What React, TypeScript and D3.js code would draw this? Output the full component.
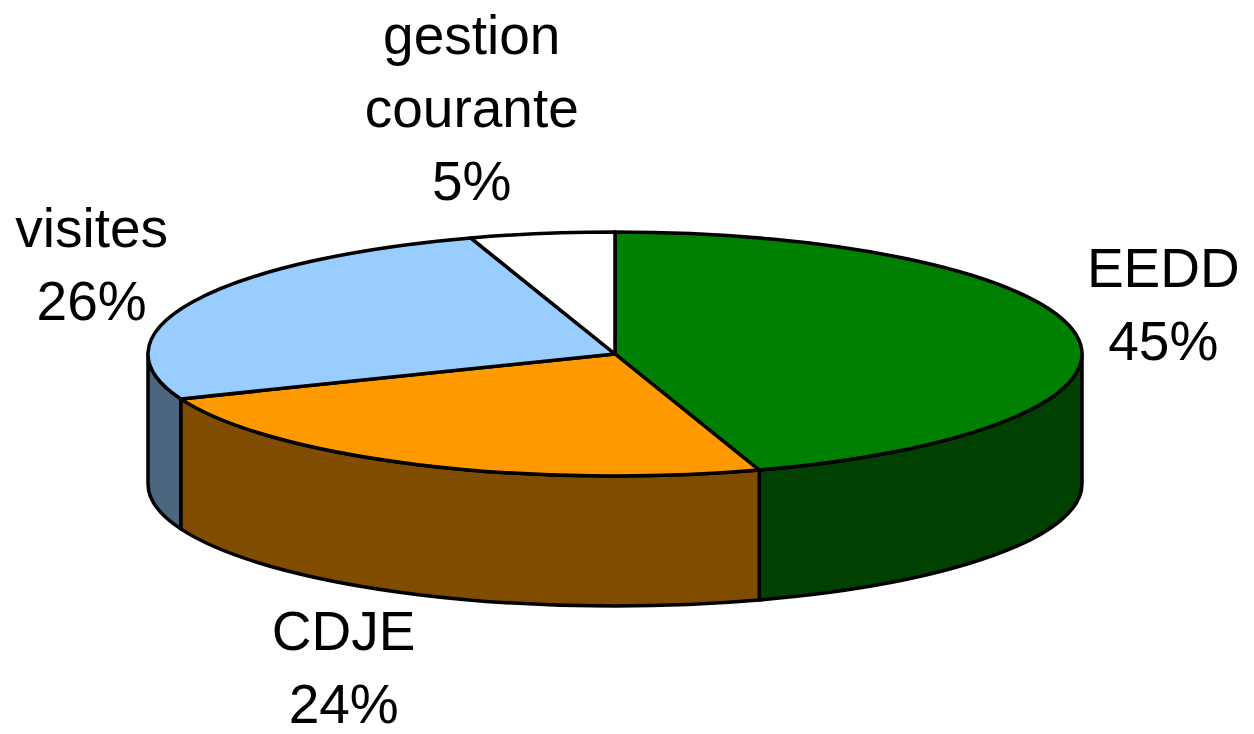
import { useEffect, useRef } from "react";
import * as d3 from "d3";

const categories = ["EEDD", "CDJE", "visites", "gestion courante"];
const values = [45, 24, 26, 5];
const labelLines = [["EEDD"], ["CDJE"], ["visites"], ["gestion", "courante"]];
const topColors = ["#008000", "#FF9900", "#99CCFF", "#FFFFFF"];
const sideColors = ["#004000", "#804C00", "#4D6680", "#808080"];

const W = 1254;
const H = 734;

export default function App() {
  const svgRef = useRef<SVGSVGElement | null>(null);

  useEffect(() => {
    const svgEl = svgRef.current;
    if (!svgEl) return;
    const svg = d3.select(svgEl);
    svg.selectAll("*").remove();

    const cx = 615;
    const cy = 354;
    const rx = 467;
    const ry = 122;
    const depth = 130;

    const data = categories.map((c, i) => ({ name: c, value: values[i], i }));
    const arcs = d3
      .pie<{ name: string; value: number; i: number }>()
      .sort(null)
      .value((d) => d.value)
      .startAngle(0)
      .endAngle(2 * Math.PI)(data);

    const total = d3.sum(values);
    const pct = d3.format(".0%");

    const px = (a: number) => cx + rx * Math.sin(a);
    const py = (a: number) => cy - ry * Math.cos(a);

    // outer walls (front half only)
    const wallG = svg.append("g");
    arcs.forEach((a) => {
      const s = Math.max(a.startAngle, Math.PI / 2);
      const e = Math.min(a.endAngle, (3 * Math.PI) / 2);
      if (e <= s) return;
      const d =
        `M${px(s)},${py(s)} A${rx},${ry} 0 0 1 ${px(e)},${py(e)} ` +
        `L${px(e)},${py(e) + depth} A${rx},${ry} 0 0 0 ${px(s)},${py(s) + depth} Z`;
      wallG
        .append("path")
        .attr("d", d)
        .attr("fill", sideColors[a.data.i])
        .attr("stroke", "#000")
        .attr("stroke-width", 3.5)
        .attr("stroke-linejoin", "round");
    });

    // top faces
    const topG = svg.append("g");
    arcs.forEach((a) => {
      const large = a.endAngle - a.startAngle > Math.PI ? 1 : 0;
      const d =
        `M${cx},${cy} L${px(a.startAngle)},${py(a.startAngle)} ` +
        `A${rx},${ry} 0 ${large} 1 ${px(a.endAngle)},${py(a.endAngle)} Z`;
      topG
        .append("path")
        .attr("d", d)
        .attr("fill", topColors[a.data.i])
        .attr("stroke", "#000")
        .attr("stroke-width", 3.5)
        .attr("stroke-linejoin", "round");
    });

    // labels: box placed outside the ellipse at the mid angle
    const fontSize = 55;
    const lineH = 73;
    const capH = 40;
    const pad = 35;
    // small hand nudges to follow the original placement
    const nudge: Record<string, [number, number]> = {
      EEDD: [-23, -17],
      CDJE: [-27, -11],
      visites: [0, 0],
      "gestion courante": [-48, 0],
    };

    const labG = svg
      .append("g")
      .attr("font-family", "'Liberation Sans', Arial, sans-serif")
      .attr("font-size", fontSize)
      .attr("fill", "#000");

    arcs.forEach((a) => {
      const m = (a.startAngle + a.endAngle) / 2;
      const lines = [...labelLines[a.data.i], pct(a.data.value / total)];
      const t = labG.append("text").attr("text-anchor", "middle");
      lines.forEach((ln, k) => {
        t.append("tspan").attr("x", 0).attr("y", k * lineH).text(ln);
      });
      let w = 0;
      t.selectAll<SVGTSpanElement, unknown>("tspan").each(function () {
        w = Math.max(w, this.getComputedTextLength());
      });
      const h = (lines.length - 1) * lineH + capH;
      const ax = cx + (rx + pad) * Math.sin(m);
      const ay = cy - (ry + pad) * Math.cos(m) + (Math.cos(m) < 0 ? depth : 0);
      const [nx, ny] = nudge[a.data.name] || [0, 0];
      const bx = ax + (Math.sin(m) * w) / 2 + nx;
      const by = ay - (Math.cos(m) * h) / 2 + ny;
      t.attr("transform", `translate(${bx},${by - h / 2 + capH})`);
    });
  }, []);

  return (
    <svg
      ref={svgRef}
      width={W}
      height={H}
      style={{ position: "absolute", left: 0, top: 0, background: "#fff" }}
    />
  );
}
